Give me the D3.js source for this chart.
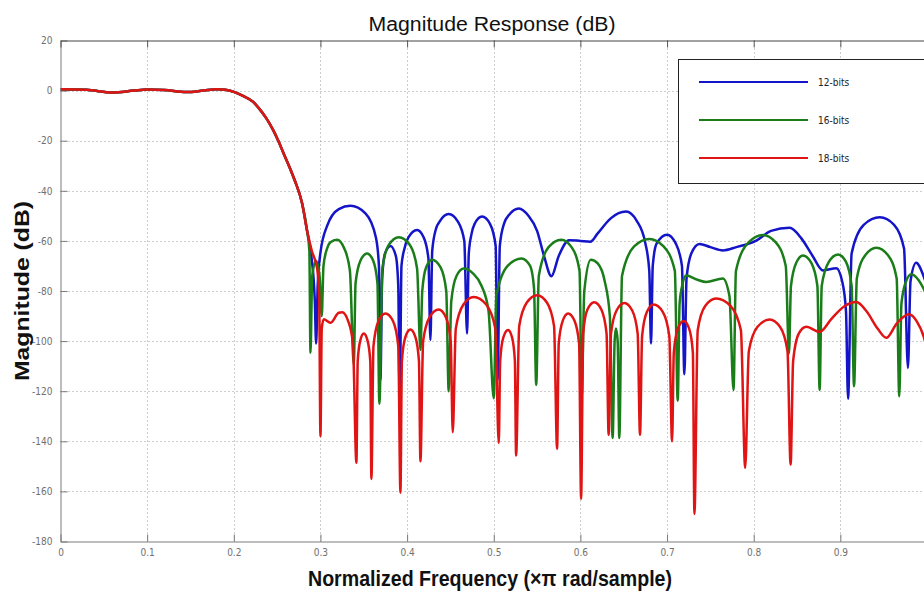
<!DOCTYPE html>
<html>
<head>
<meta charset="utf-8">
<script src="https://cdn.jsdelivr.net/npm/d3@7"></script>
<style>
  body { margin: 0; background: #fff; }
  svg { display: block; }
</style>
</head>
<body>
<div id="grafico"></div>
<script>
// ejes
const xTicks = [0, 0.1, 0.2, 0.3, 0.4, 0.5, 0.6, 0.7, 0.8, 0.9, 1];
const yTicks = [20, 0, -20, -40, -60, -80, -100, -120, -140, -160, -180];

const nombres = ["12-bits", "16-bits", "18-bits"];
const colores = ["#1414c8", "#1a7d1a", "#e01414"];

// banda de paso, comun a las tres curvas [frecuencia, dB]
const bandaPaso = [[0,0.5],[0.03,0.3],[0.06,-0.8],[0.085,0],[0.1,0.4],[0.12,0.2],[0.145,-0.6],[0.165,0],[0.18,0.5],[0.19,0.3],[0.2,-0.5],[0.21,-2],[0.2224,-4.5],[0.23,-7.5],[0.2378,-11.2],[0.245,-15.5],[0.2513,-20],[0.258,-25.5],[0.2654,-31.5],[0.2705,-36],[0.2788,-45],[0.2846,-56]];

const bits12 = [
  [0.2895,-66],[0.2935,-84],[0.295,-101],[0.2968,-78],[0.300,-64.7],[0.3077,-54],[0.3212,-47.3],[0.3346,-46],[0.3519,-49],[0.364,-58.6],[0.3675,-70],[0.3692,-115.5],
  [0.3712,-75],[0.3745,-65],[0.3808,-62],[0.387,-66],[0.3898,-78],[0.3915,-124],
  [0.3935,-70],[0.397,-63],[0.4015,-58.6],[0.4115,-55.6],[0.4192,-58.6],[0.4246,-67],[0.4269,-99.6],
  [0.429,-64],[0.4335,-55],[0.4375,-52.3],[0.448,-49.3],[0.4586,-52.3],[0.466,-60],[0.4692,-97],
  [0.4712,-65],[0.4745,-57],[0.4778,-53.3],[0.4865,-50.3],[0.4958,-53.3],[0.5022,-62],[0.5045,-115.5],
  [0.507,-62],[0.512,-53],[0.5175,-49.7],[0.529,-47.1],[0.54,-50],[0.55,-56],[0.558,-66],[0.5665,-74.1],[0.575,-66],[0.587,-59.7],[0.6,-60],[0.6115,-60.3],
  [0.62,-57],[0.635,-51],[0.6526,-48.3],[0.665,-52],[0.675,-61],[0.6795,-72],[0.6815,-101],
  [0.6835,-70],[0.688,-61],[0.7,-57.5],[0.71,-61],[0.7172,-70],[0.72,-113.2],
  [0.7225,-75],[0.728,-65],[0.7374,-61.2],[0.75,-62.5],[0.7644,-63.8],[0.78,-62.5],[0.8029,-59.9],[0.82,-56],[0.8414,-54.8],[0.855,-59],[0.868,-66],[0.88,-71.8],[0.8954,-70.9],[0.902,-76],[0.9065,-88],[0.9089,-123],
  [0.913,-65],[0.927,-53.6],[0.9455,-50.6],[0.962,-53.6],[0.9735,-63],[0.978,-110.7],[0.981,-76],[0.9875,-68.7],[0.996,-74],[1,-78]
];

const bits16 = [
  [0.2872,-64],[0.2885,-104.7],[0.2905,-74],[0.295,-68],[0.299,-74],[0.3015,-90],[0.3035,-70],[0.3077,-63],[0.3115,-60.5],[0.3192,-59.5],[0.3275,-63],[0.334,-72],[0.3385,-109.5],
  [0.3405,-77],[0.346,-68],[0.3538,-65],[0.361,-68],[0.3658,-77],[0.368,-125],
  [0.3715,-71],[0.379,-61.5],[0.3904,-58.5],[0.403,-61.5],[0.4115,-71],[0.4154,-103.6],
  [0.4175,-80],[0.422,-70.5],[0.4288,-67.5],[0.4385,-70.5],[0.4452,-80],[0.448,-120],
  [0.451,-84],[0.457,-74],[0.4654,-71],[0.476,-73],[0.486,-78],[0.494,-88],[0.5,-122.8],
  [0.503,-82],[0.516,-70],[0.532,-67],[0.542,-70],[0.5465,-79],[0.549,-117.5],
  [0.552,-74],[0.563,-62.6],[0.578,-59.5],[0.59,-62.6],[0.599,-72],[0.6015,-122],
  [0.6045,-80],[0.612,-67.5],[0.62,-69],[0.628,-76],[0.634,-90],[0.6372,-138.7],[0.6395,-100],[0.641,-95],[0.643,-100],[0.6449,-138.7],
  [0.648,-74],[0.662,-62.2],[0.6796,-59.2],[0.696,-62.2],[0.709,-72],[0.7123,-123.8],
  [0.7145,-85],[0.718,-77],[0.722,-73.8],[0.735,-75.5],[0.7451,-76.4],[0.7644,-75],[0.772,-82],[0.7767,-119.5],
  [0.7795,-72],[0.794,-60.6],[0.8106,-57.6],[0.8255,-60.6],[0.837,-70],[0.8407,-105],
  [0.843,-78],[0.849,-68.8],[0.8568,-65.8],[0.8665,-68.8],[0.8735,-78],[0.8761,-119.5],
  [0.8785,-78],[0.8867,-68.4],[0.8973,-65.4],[0.9065,-68.4],[0.913,-78],[0.9158,-118],
  [0.919,-75],[0.9287,-65.7],[0.9416,-62.7],[0.955,-65.7],[0.965,-75],[0.968,-122],
  [0.9705,-85],[0.976,-76],[0.9818,-73.3],[0.99,-75.5],[0.996,-79],[1,-82]
];

const bits18 = [
  [0.29,-64],[0.2962,-71],[0.2985,-82],[0.3,-138],[0.3015,-95],[0.3038,-91.3],[0.3115,-92.7],[0.3212,-88.7],[0.325,-88.5],[0.332,-92],[0.3375,-101],[0.3415,-148.6],
  [0.343,-108],[0.3458,-100],[0.35,-97],[0.3545,-100],[0.3575,-108],[0.3588,-155],
  [0.3612,-102],[0.367,-92],[0.375,-89],[0.3837,-92],[0.3898,-102],[0.3923,-160.5],
  [0.394,-108],[0.398,-98.4],[0.4038,-95.4],[0.4096,-98.4],[0.4137,-108],[0.4154,-148],
  [0.4185,-100],[0.426,-90.4],[0.4365,-87.4],[0.4446,-90.4],[0.4503,-100],[0.4527,-136.4],
  [0.4562,-95],[0.465,-85.4],[0.4769,-82.4],[0.4913,-85.4],[0.5018,-95],[0.5058,-140.7],
  [0.5074,-108],[0.511,-98.6],[0.5165,-95.6],[0.5212,-98.6],[0.5244,-108],[0.5258,-145.7],
  [0.5294,-94],[0.538,-84.7],[0.55,-81.7],[0.5615,-84.7],[0.5696,-94],[0.5731,-143],
  [0.575,-101],[0.5795,-92],[0.5858,-89],[0.5933,-92],[0.5985,-101],[0.6008,-163],
  [0.6032,-97],[0.608,-87.5],[0.616,-84.5],[0.6243,-87.5],[0.6302,-97],[0.6326,-137.4],
  [0.6353,-97],[0.6417,-87.8],[0.6507,-84.8],[0.6598,-87.8],[0.6661,-97],[0.6688,-137.4],
  [0.6712,-98],[0.6767,-88.4],[0.6846,-85.4],[0.6952,-88.4],[0.7026,-98],[0.7058,-140],
  [0.7078,-104.6],[0.7125,-95],[0.7193,-92],[0.7255,-95],[0.7298,-104.6],[0.7316,-169],
  [0.7354,-95.6],[0.744,-86],[0.7566,-83],[0.7734,-86],[0.7852,-95.6],[0.7902,-150.6],
  [0.7944,-104],[0.8042,-94.4],[0.8183,-91.4],[0.8305,-94.4],[0.839,-104],[0.8426,-149.3],
  [0.8455,-108],[0.852,-97],[0.8607,-94.3],[0.876,-96.3],[0.89,-91],[0.905,-86],[0.9185,-84.4],[0.93,-88],[0.943,-95],[0.953,-98.7],[0.965,-93],[0.979,-89.3],[0.988,-92],[0.996,-98],[1,-103]
];

const series = [bits12, bits16, bits18];

const ancho = 924, alto = 593;
const izq = 60.5, der = 927, arriba = 40.5, abajo = 541.5;
const fuenteTicks = "'Liberation Sans Narrow', 'DejaVu Sans Condensed', Arial, sans-serif";

const x = d3.scaleLinear().domain([0, 1]).range([izq, der]);
const y = d3.scaleLinear().domain([-180, 20]).range([abajo, arriba]);

const $svg = d3.select("#grafico")
  .append("svg")
  .attr("width", ancho)
  .attr("height", alto);

$svg.append("defs").append("clipPath")
  .attr("id", "recorte")
  .append("rect")
  .attr("x", izq).attr("y", arriba)
  .attr("width", der - izq).attr("height", abajo - arriba);

// GRILLA PUNTEADA
const grilla = $svg.append("g").attr("stroke", "#9a9a9a").attr("stroke-width", 1).attr("stroke-dasharray", "1,3");
grilla.selectAll("line.v")
  .data(xTicks.filter(t => t > 0 && t < 1))
  .join("line")
  .attr("x1", d => Math.round(x(d)) + 0.5).attr("x2", d => Math.round(x(d)) + 0.5)
  .attr("y1", arriba).attr("y2", abajo);
grilla.selectAll("line.h")
  .data(yTicks.filter(t => t < 20 && t > -180))
  .join("line")
  .attr("x1", izq).attr("x2", der)
  .attr("y1", d => Math.round(y(d)) + 0.5).attr("y2", d => Math.round(y(d)) + 0.5);

// EJES (el 1 queda fuera de la ventana, sin etiqueta)
const ejeX = $svg.append("g")
  .attr("transform", `translate(0, ${abajo})`)
  .call(d3.axisBottom(x).tickValues(xTicks).tickFormat(d => d === 1 ? "" : String(d)).tickSize(-7).tickSizeOuter(0).tickPadding(7));
const ejeY = $svg.append("g")
  .attr("transform", `translate(${izq}, 0)`)
  .call(d3.axisLeft(y).tickValues(yTicks).tickFormat(d => String(d)).tickSize(-7).tickSizeOuter(0).tickPadding(8));
const ejeArriba = $svg.append("g")
  .attr("transform", `translate(0, ${arriba})`)
  .call(d3.axisTop(x).tickValues(xTicks).tickFormat("").tickSize(-7).tickSizeOuter(0));

[ejeX, ejeY].forEach(eje => {
  eje.select(".domain").attr("stroke", "#7a7a7a");
  eje.selectAll(".tick line").attr("stroke", "#7a7a7a");
  eje.selectAll(".tick text")
    .attr("fill", "#707070")
    .style("font-family", fuenteTicks)
    .style("font-size", "10px");
});
ejeArriba.select(".domain").attr("stroke", "#444");
ejeArriba.selectAll(".tick line").attr("stroke", "#555");

// CURVAS
const linea = d3.line()
  .x(d => x(d[0]))
  .y(d => y(d[1]))
  .curve(d3.curveMonotoneX);

const curvas = $svg.append("g").attr("clip-path", "url(#recorte)");
series.forEach((s, i) => {
  curvas.append("path")
    .attr("d", linea(bandaPaso.concat(s)))
    .attr("fill", "none")
    .attr("stroke", colores[i])
    .attr("stroke-width", 2.5)
    .attr("stroke-linejoin", "round");
});

// LEYENDA
const leyenda = $svg.append("g");
leyenda.append("rect")
  .attr("x", 678.5).attr("y", 59.5)
  .attr("width", 260).attr("height", 124)
  .attr("fill", "#fff")
  .attr("stroke", "#222");
nombres.forEach((n, i) => {
  const yy = 82 + i * 38;
  leyenda.append("line")
    .attr("x1", 699).attr("x2", 808)
    .attr("y1", yy).attr("y2", yy)
    .attr("stroke", colores[i])
    .attr("stroke-width", 2.2);
  leyenda.append("text")
    .attr("x", 818).attr("y", yy)
    .attr("dominant-baseline", "central")
    .style("font-family", fuenteTicks)
    .style("font-size", "10px")
    .attr("fill", "#222")
    .text(n);
});

// TEXTOS
$svg.append("text")
  .attr("x", 492).attr("y", 31)
  .attr("text-anchor", "middle")
  .attr("textLength", 247).attr("lengthAdjust", "spacingAndGlyphs")
  .style("font-family", "'Liberation Sans', Arial, sans-serif")
  .style("font-size", "20px")
  .attr("fill", "#111")
  .text("Magnitude Response (dB)");

$svg.append("text")
  .attr("x", 490).attr("y", 586)
  .attr("text-anchor", "middle")
  .attr("textLength", 364).attr("lengthAdjust", "spacingAndGlyphs")
  .style("font-family", "'Liberation Sans Narrow', 'Liberation Sans', Arial, sans-serif")
  .style("font-size", "22px")
  .style("font-weight", "bold")
  .attr("fill", "#111")
  .text("Normalized Frequency (\u00d7\u03c0 rad/sample)");

$svg.append("text")
  .attr("transform", `translate(29, ${(arriba + abajo) / 2}) rotate(-90)`)
  .attr("text-anchor", "middle")
  .attr("textLength", 180).attr("lengthAdjust", "spacingAndGlyphs")
  .style("font-family", "'Liberation Sans', Arial, sans-serif")
  .style("font-size", "21px")
  .style("font-weight", "bold")
  .attr("fill", "#111")
  .text("Magnitude (dB)");
</script>
</body>
</html>
